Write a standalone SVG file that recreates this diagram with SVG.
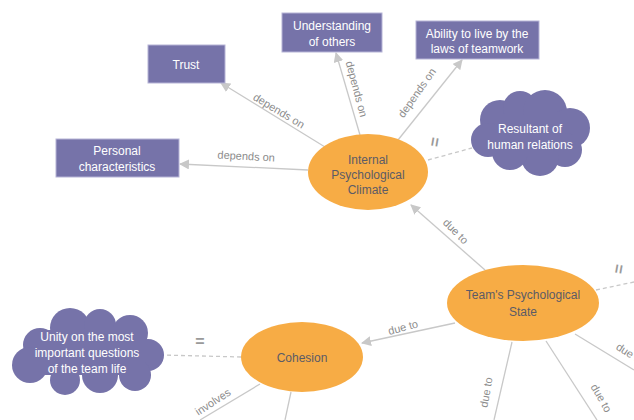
<svg xmlns="http://www.w3.org/2000/svg" width="634" height="420" viewBox="0 0 634 420">
<defs>
<style>
.r{fill:#7673a9;stroke:#b6b4d6;stroke-width:1}
.e{fill:#f7ac45}
.c{fill:#7673a9}
.tw{font-family:"Liberation Sans",Arial,sans-serif;font-size:12px;fill:#fff;text-anchor:middle}
.to{font-family:"Liberation Sans",Arial,sans-serif;font-size:12px;fill:#5b5b66;text-anchor:middle}
.l{font-family:"Liberation Sans",Arial,sans-serif;font-size:11px;fill:#8c8c8c;text-anchor:middle}
.eq{font-family:"Liberation Sans",Arial,sans-serif;font-size:16px;font-weight:bold;fill:#9a9a9a;text-anchor:middle}
.ln{stroke:#c8c8c8;stroke-width:1.3;fill:none}
.d{stroke:#c8c8c8;stroke-width:1.3;fill:none;stroke-dasharray:4 3}
</style>
<marker id="a" viewBox="0 0 10 10" refX="9" refY="5" markerWidth="10" markerHeight="10" markerUnits="userSpaceOnUse" orient="auto"><path d="M0,0L10,5L0,10z" fill="#c8c8c8"/></marker>
</defs>
<g id="connectors">
<line class="ln" x1="325" y1="147" x2="221" y2="83" marker-end="url(#a)"/>
<line class="ln" x1="360" y1="135" x2="336" y2="53" marker-end="url(#a)"/>
<line class="ln" x1="398" y1="140" x2="462" y2="60" marker-end="url(#a)"/>
<line class="ln" x1="308" y1="170" x2="180" y2="164" marker-end="url(#a)"/>
<line class="d" x1="428" y1="160" x2="472" y2="148"/>
<line class="ln" x1="485" y1="270" x2="411" y2="205" marker-end="url(#a)"/>
<line class="ln" x1="455" y1="323" x2="362" y2="343" marker-end="url(#a)"/>
<line class="d" x1="596" y1="290" x2="634" y2="282"/>
<line class="ln" x1="575" y1="334" x2="634" y2="370"/>
<line class="ln" x1="546" y1="341" x2="597" y2="420"/>
<line class="ln" x1="512" y1="342" x2="494" y2="420"/>
<line class="d" x1="241" y1="357" x2="162" y2="355"/>
<line class="ln" x1="260" y1="384" x2="200" y2="420"/>
<line class="ln" x1="291" y1="392" x2="285" y2="420"/>
<text class="l" transform="translate(277,114) rotate(31)">depends on</text>
<text class="l" transform="translate(353,90) rotate(75)">depends on</text>
<text class="l" transform="translate(420,95) rotate(-55)">depends on</text>
<text class="l" transform="translate(246,160) rotate(3)">depends on</text>
<text class="eq" transform="translate(440,143) rotate(-80)">=</text>
<text class="l" transform="translate(453,234) rotate(45)">due to</text>
<text class="l" transform="translate(404,331) rotate(-15)">due to</text>
<text class="eq" transform="translate(624,270) rotate(-80)">=</text>
<text class="l" transform="translate(628,357) rotate(33)">due to</text>
<text class="l" transform="translate(598,400) rotate(60)">due to</text>
<text class="l" transform="translate(490,393) rotate(-80)">due to</text>
<text class="eq" x="200" y="347">=</text>
<text class="l" transform="translate(215,405) rotate(-33)">involves</text>
</g>
<g id="trust"><rect class="r" x="148" y="45" width="77" height="38"/><text class="tw" x="186" y="69">Trust</text></g>
<g id="understanding"><rect class="r" x="282" y="13" width="100" height="39"/><text class="tw" x="332" y="30">Understanding</text><text class="tw" x="332" y="46">of others</text></g>
<g id="ability"><rect class="r" x="416" y="21" width="123" height="38"/><text class="tw" x="477" y="38">Ability to live by the</text><text class="tw" x="477" y="53">laws of teamwork</text></g>
<g id="personal"><rect class="r" x="56" y="139" width="123" height="38"/><text class="tw" x="117" y="155">Personal</text><text class="tw" x="117" y="171">characteristics</text></g>
<g id="internal"><ellipse class="e" cx="368" cy="172" rx="60" ry="38"/><text class="to" x="368" y="164">Internal</text><text class="to" x="368" y="179">Psychological</text><text class="to" x="368" y="194">Climate</text></g>
<g id="resultant" class="c"><circle cx="500" cy="120" r="20"/><circle cx="520" cy="108" r="17"/><circle cx="545" cy="112" r="22"/><circle cx="570" cy="128" r="20"/><circle cx="565" cy="150" r="17"/><circle cx="540" cy="157" r="19"/><circle cx="510" cy="152" r="18"/><circle cx="488" cy="140" r="17"/><rect x="495" y="115" width="70" height="40"/><text class="tw" x="530" y="133">Resultant of</text><text class="tw" x="530" y="149">human relations</text></g>
<g id="team"><ellipse class="e" cx="523" cy="303" rx="76" ry="38"/><text class="to" x="523" y="299">Team's Psychological</text><text class="to" x="523" y="316">State</text></g>
<g id="cohesion"><ellipse class="e" cx="302" cy="357" rx="61" ry="35"/><text class="to" x="302" y="362">Cohesion</text></g>
<g id="unity" class="c"><circle cx="40" cy="345" r="17"/><circle cx="70" cy="328" r="20"/><circle cx="100" cy="325" r="16"/><circle cx="130" cy="333" r="18"/><circle cx="148" cy="355" r="16"/><circle cx="135" cy="375" r="16"/><circle cx="100" cy="375" r="18"/><circle cx="65" cy="380" r="15"/><circle cx="30" cy="365" r="18"/><rect x="35" y="330" width="110" height="45"/><text class="tw" x="87" y="341">Unity on the most</text><text class="tw" x="87" y="357">important questions</text><text class="tw" x="87" y="373">of the team life</text></g>
</svg>
